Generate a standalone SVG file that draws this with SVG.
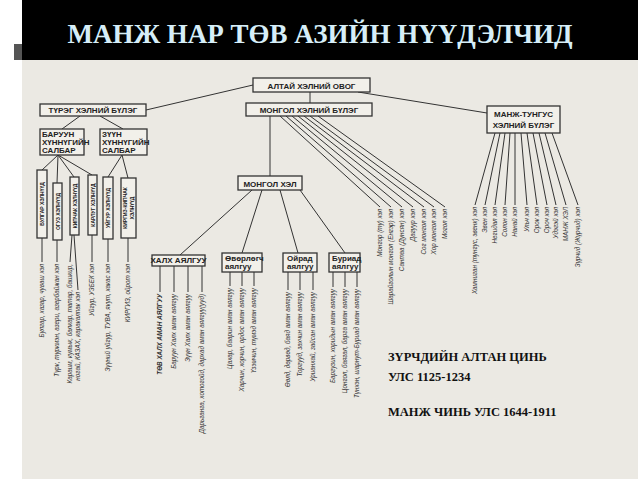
<svg xmlns="http://www.w3.org/2000/svg" width="638" height="479" viewBox="0 0 638 479">
<style>
.b{fill:#f2f0ea;stroke:#333;stroke-width:1.3}
.t{font-family:"Liberation Sans",Arial,sans-serif;font-weight:bold;font-size:8px;fill:#222}
.v{font-family:"Liberation Sans",Arial,sans-serif;font-weight:bold;font-size:5px;fill:#222}
.s{font-family:"Liberation Sans",Arial,sans-serif;font-style:italic;font-size:6.3px;fill:#333}
.c line{stroke:#333;stroke-width:1}
.r{font-family:"Liberation Serif","Times New Roman",serif;font-weight:bold;font-size:12.5px;fill:#111}
</style>
<rect width="638" height="479" fill="#fff"/>
<rect x="22" y="60" width="616" height="419" fill="#ebe9e3"/>
<rect x="22" y="0" width="616" height="60" fill="#000"/>
<rect x="14" y="44" width="8" height="16" fill="#555"/>
<text x="320" y="43" text-anchor="middle" font-family="Liberation Serif,serif" font-weight="bold" font-size="27" fill="#d6eef8">МАНЖ НАР ТӨВ АЗИЙН НҮҮДЭЛЧИД</text>
<g class="c">
<line x1="253" y1="85" x2="146" y2="110"/><line x1="310" y1="92" x2="310" y2="103"/><line x1="358" y1="92" x2="487" y2="113"/>
<line x1="80" y1="116" x2="62" y2="129"/><line x1="100" y1="116" x2="123" y2="129"/>
<line x1="58" y1="155" x2="42" y2="170"/><line x1="58" y1="155" x2="57" y2="183"/><line x1="58" y1="155" x2="74" y2="177"/><line x1="58" y1="155" x2="92" y2="175"/>
<line x1="122" y1="155" x2="108" y2="177"/><line x1="122" y1="155" x2="128" y2="178"/>
<line x1="42" y1="238" x2="42" y2="262"/><line x1="57" y1="240" x2="57" y2="262"/><line x1="72" y1="235" x2="70" y2="262"/><line x1="74" y1="235" x2="78" y2="290"/><line x1="92" y1="235" x2="92" y2="262"/><line x1="108" y1="239" x2="108" y2="262"/><line x1="128" y1="238" x2="128" y2="262"/>
<line x1="270" y1="116" x2="270" y2="176"/>
<line x1="252" y1="190" x2="180" y2="255"/><line x1="262" y1="190" x2="242" y2="253"/><line x1="280" y1="190" x2="298" y2="253"/><line x1="300" y1="190" x2="345" y2="253"/>
<line x1="160" y1="266" x2="160" y2="292"/><line x1="174" y1="266" x2="174" y2="292"/><line x1="188" y1="266" x2="188" y2="292"/><line x1="202" y1="266" x2="202" y2="292"/>
<line x1="230" y1="272" x2="230" y2="286"/><line x1="242" y1="272" x2="242" y2="286"/><line x1="254" y1="272" x2="254" y2="286"/>
<line x1="288" y1="272" x2="288" y2="290"/><line x1="300" y1="272" x2="300" y2="290"/><line x1="313" y1="272" x2="313" y2="290"/>
<line x1="333" y1="272" x2="333" y2="287"/><line x1="345" y1="272" x2="345" y2="287"/><line x1="357" y1="272" x2="357" y2="287"/>
<line x1="280" y1="116" x2="380" y2="207"/><line x1="286" y1="116" x2="391" y2="207"/><line x1="292" y1="116" x2="402" y2="207"/><line x1="298" y1="116" x2="413" y2="207"/><line x1="304" y1="116" x2="424" y2="207"/><line x1="310" y1="116" x2="434" y2="207"/><line x1="318" y1="116" x2="445" y2="207"/>
<line x1="495" y1="133" x2="475" y2="205"/><line x1="500" y1="133" x2="485" y2="205"/><line x1="505" y1="133" x2="495" y2="205"/><line x1="510" y1="133" x2="505" y2="205"/><line x1="515" y1="133" x2="515" y2="205"/><line x1="521" y1="133" x2="527" y2="205"/><line x1="527" y1="133" x2="537" y2="205"/><line x1="533" y1="133" x2="547" y2="205"/><line x1="539" y1="133" x2="556" y2="205"/><line x1="545" y1="133" x2="566" y2="205"/><line x1="552" y1="133" x2="578" y2="205"/>
</g>
<g id="altai"><rect class="b" x="253" y="78" width="117" height="14"/><text class="t" x="311.5" y="88.5" text-anchor="middle">АЛТАЙ  ХЭЛНИЙ  ОВОГ</text></g>
<g id="turk"><rect class="b" x="40" y="104" width="106" height="12"/><text class="t" x="93" y="113" text-anchor="middle">ТҮРЭГ  ХЭЛНИЙ БҮЛЭГ</text></g>
<g id="mongolgrp"><rect class="b" x="246" y="103" width="126" height="13"/><text class="t" x="309" y="112.5" text-anchor="middle">МОНГОЛ  ХЭЛНИЙ  БҮЛЭГ</text></g>
<g id="manj"><rect class="b" x="487" y="106" width="73" height="27"/><text class="t" x="523.5" y="117" text-anchor="middle">МАНЖ-ТУНГУС</text><text class="t" x="523.5" y="128" text-anchor="middle">ХЭЛНИЙ БҮЛЭГ</text></g>
<g id="baruun"><rect class="b" x="40" y="129" width="44" height="26"/><text class="t" font-size="5.8" x="42" y="137" font-weight="normal">БАРУУН</text><text class="t" font-size="5.8" x="42" y="145" font-weight="normal">ХҮННҮГИЙН</text><text class="t" font-size="5.8" x="42" y="153" font-weight="normal">САЛБАР</text></g>
<g id="zuun"><rect class="b" x="100" y="129" width="47" height="26"/><text class="t" font-size="5.8" x="102" y="137" font-weight="normal">ЗҮҮН</text><text class="t" font-size="5.8" x="102" y="145" font-weight="normal">ХҮННҮГИЙН</text><text class="t" font-size="5.8" x="102" y="153" font-weight="normal">САЛБАР</text></g>
<g id="bulgar"><rect class="b" x="37" y="170" width="10" height="68"/><text class="v" transform="translate(44,204) rotate(-90)" text-anchor="middle">БУЛГАР ХЭЛНҮҮД</text></g>
<g id="oguz"><rect class="b" x="53" y="183" width="9" height="57"/><text class="v" transform="translate(59.5,211.5) rotate(-90)" text-anchor="middle">ОГУЗ ХЭЛНҮҮД</text></g>
<g id="kipchak"><rect class="b" x="70" y="177" width="9" height="58"/><text class="v" transform="translate(76.5,206) rotate(-90)" text-anchor="middle">КИПЧАК ХЭЛНҮҮД</text></g>
<g id="karlug"><rect class="b" x="88" y="175" width="9" height="60"/><text class="v" transform="translate(94.5,205) rotate(-90)" text-anchor="middle">КАРЛУГ ХЭЛНҮҮД</text></g>
<g id="uigur"><rect class="b" x="103" y="177" width="10" height="62"/><text class="v" transform="translate(110,208) rotate(-90)" text-anchor="middle">УЙГУР ХЭЛНҮҮД</text></g>
<g id="kirgiz"><rect class="b" x="121" y="178" width="15" height="60"/><text class="v" font-size="4.8" transform="translate(127,208) rotate(-90)" text-anchor="middle">КИРГИЗ-КИПЧАК</text><text class="v" font-size="4.8" transform="translate(133.5,208) rotate(-90)" text-anchor="middle">ХЭЛНҮҮД</text></g>
<g id="mongolhel"><rect class="b" x="238" y="176" width="64" height="14"/><text class="t" font-size="9" x="270" y="186.5" text-anchor="middle">МОНГОЛ ХЭЛ</text></g>
<g id="khalkh"><rect class="b" x="152" y="255" width="53" height="11"/><text class="t" font-size="5.8" x="178.5" y="263" text-anchor="middle">ХАЛХ АЯЛГУУ</text></g>
<g id="uvur"><rect class="b" x="222" y="253" width="40" height="19"/><text class="t" font-size="5.8" font-weight="normal" x="225" y="261">Өвөрлөгч</text><text class="t" font-size="5.8" font-weight="normal" x="225" y="269">аялгуу</text></g>
<g id="oirad"><rect class="b" x="283" y="253" width="34" height="19"/><text class="t" font-size="5.8" font-weight="normal" x="287" y="261">Ойрад</text><text class="t" font-size="5.8" font-weight="normal" x="287" y="269">аялгуу</text></g>
<g id="buriad"><rect class="b" x="329" y="253" width="31" height="19"/><text class="t" font-size="5.8" font-weight="normal" x="332" y="261">Буриад</text><text class="t" font-size="5.8" font-weight="normal" x="332" y="269">аялгуу</text></g>
<g id="labels" class="s">
<text transform="translate(44,264) rotate(-90)" text-anchor="end">Булгар, хазар, чуваш хэл</text>
<text transform="translate(59,264) rotate(-90)" text-anchor="end">Түрк, туркмэн, азери, азербайжан хэл</text>
<text transform="translate(72,264) rotate(-90)" text-anchor="end">Караим, кумык, балкар, татар, башкир,</text>
<text transform="translate(80,292) rotate(-90)" text-anchor="end">ногай, КАЗАХ, каракалпак хэл</text>
<text transform="translate(94,264) rotate(-90)" text-anchor="end">Уйгур, УЗБЕК хэл</text>
<text transform="translate(110,264) rotate(-90)" text-anchor="end">Зүүний уйгур, ТУВА, якут, хакас хэл</text>
<text transform="translate(130,264) rotate(-90)" text-anchor="end">КИРГИЗ, ойрот хэл</text>
<text transform="translate(162,294) rotate(-90)" text-anchor="end" font-weight="bold">ТӨВ ХАЛХ АМАН АЯЛГУУ</text>
<text transform="translate(176,294) rotate(-90)" text-anchor="end">Баруун Халх аман аялгуу</text>
<text transform="translate(190,294) rotate(-90)" text-anchor="end">Зүүн Халх аман аялгуу</text>
<text transform="translate(204,294) rotate(-90)" text-anchor="end">Дарьганга, хотогойд, дархад аман аялгуу(ууд)</text>
<text transform="translate(232,288) rotate(-90)" text-anchor="end">Цахар, баарин аман аялгуу</text>
<text transform="translate(244,288) rotate(-90)" text-anchor="end">Харчин, хорчин, ордос аман аялгуу</text>
<text transform="translate(256,288) rotate(-90)" text-anchor="end">Үзэмчин, түмэд аман аялгуу</text>
<text transform="translate(290,292) rotate(-90)" text-anchor="end">Өөлд, дөрвөд, баяд аман аялгуу</text>
<text transform="translate(302,292) rotate(-90)" text-anchor="end">Торгууд, захчин аман аялгуу</text>
<text transform="translate(315,292) rotate(-90)" text-anchor="end">Урианхай, зайсан аман аялгуу</text>
<text transform="translate(335,289) rotate(-90)" text-anchor="end">Баргузин, хоридын аман аялгуу</text>
<text transform="translate(347,289) rotate(-90)" text-anchor="end">Цонгол, баягал, барга аман аялгуу</text>
<text transform="translate(359,289) rotate(-90)" text-anchor="end">Түнхэн, шарнут-Буриад аман аялгуу</text>
<text transform="translate(382,209) rotate(-90)" text-anchor="end">Монгор (ту) хэл</text>
<text transform="translate(393,209) rotate(-90)" text-anchor="end">Шарайголын монгол (Енгэр) хэл</text>
<text transform="translate(404,209) rotate(-90)" text-anchor="end">Сантаа (Дунсян) хэл</text>
<text transform="translate(415,209) rotate(-90)" text-anchor="end">Дагуур хэл</text>
<text transform="translate(426,209) rotate(-90)" text-anchor="end">Сог монгол хэл</text>
<text transform="translate(436,209) rotate(-90)" text-anchor="end">Хор монгол хэл</text>
<text transform="translate(447,209) rotate(-90)" text-anchor="end">Могол хэл</text>
<text transform="translate(477,207) rotate(-90)" text-anchor="end">Хамниган (тунгус, эвенк) хэл</text>
<text transform="translate(487,207) rotate(-90)" text-anchor="end">Эвен хэл</text>
<text transform="translate(497,207) rotate(-90)" text-anchor="end">Негидал хэл</text>
<text transform="translate(507,207) rotate(-90)" text-anchor="end">Солон хэл</text>
<text transform="translate(517,207) rotate(-90)" text-anchor="end">Нанай хэл</text>
<text transform="translate(529,207) rotate(-90)" text-anchor="end">Ульч хэл</text>
<text transform="translate(539,207) rotate(-90)" text-anchor="end">Орок хэл</text>
<text transform="translate(549,207) rotate(-90)" text-anchor="end">Ороч хэл</text>
<text transform="translate(558,207) rotate(-90)" text-anchor="end">Удэгэй хэл</text>
<text transform="translate(568,207) rotate(-90)" text-anchor="end">МАНЖ ХЭЛ</text>
<text transform="translate(580,207) rotate(-90)" text-anchor="end">Зүрчид (Жүрчид) хэл</text>
</g>
<text class="r" x="388" y="361">ЗҮРЧДИЙН АЛТАН ЦИНЬ</text>
<text class="r" x="388" y="381">УЛС 1125-1234</text>
<text class="r" x="388" y="416">МАНЖ ЧИНЬ УЛС 1644-1911</text>
</svg>
